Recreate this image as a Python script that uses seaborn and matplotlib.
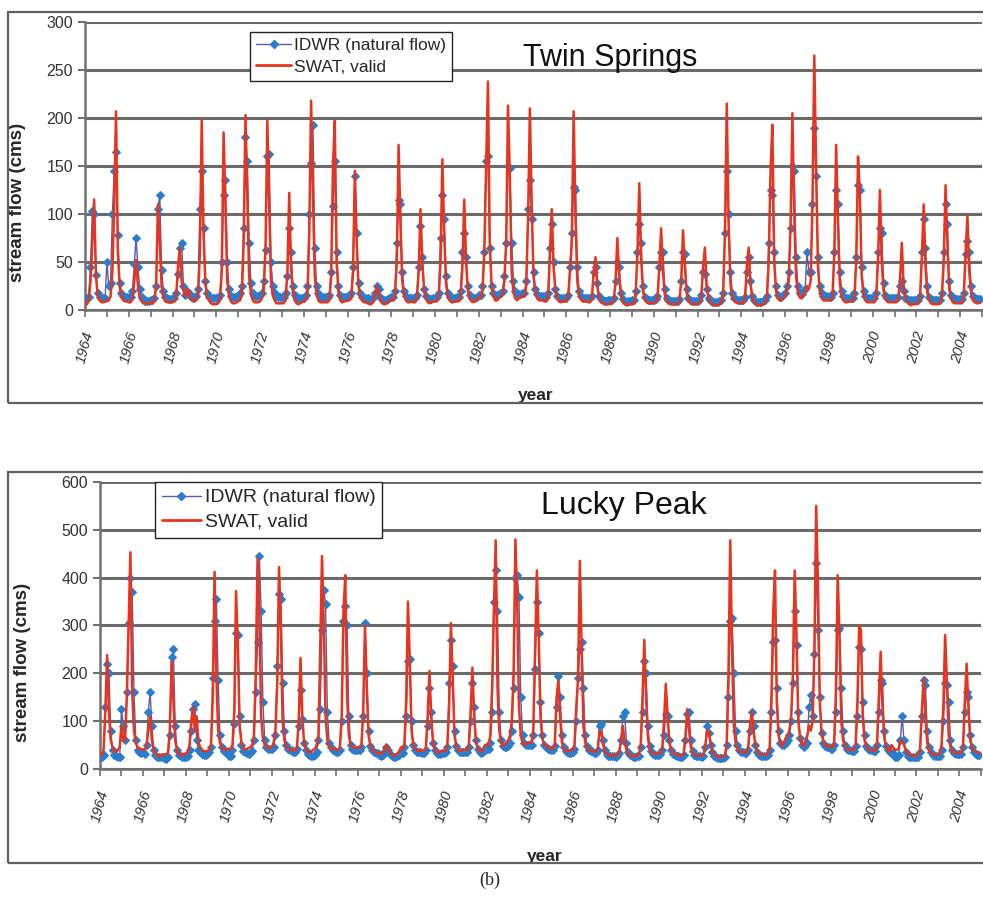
import numpy as np
import pandas as pd
import seaborn as sns
import matplotlib.pyplot as plt
from matplotlib.patches import Rectangle
from matplotlib.ticker import MultipleLocator
from matplotlib.lines import Line2D

years = list(range(1964, 2005))

# Twin Springs, monthly flow (cms), one row per year Jan..Dec
ts_swat = [
    [6, 6, 9, 30, 70, 115, 35, 15, 10, 8, 8, 9],
    [9, 10, 14, 40, 110, 207, 60, 25, 14, 10, 9, 9],
    [8, 8, 12, 30, 52, 25, 13, 9, 7, 6, 7, 7],
    [7, 7, 9, 25, 110, 70, 25, 13, 9, 8, 8, 8],
    [8, 9, 15, 45, 65, 30, 20, 14, 22, 18, 12, 10],
    [9, 10, 14, 60, 198, 80, 28, 14, 10, 7, 6, 6],
    [6, 7, 10, 40, 185, 110, 30, 14, 9, 7, 7, 8],
    [9, 10, 16, 70, 203, 120, 35, 16, 10, 8, 8, 8],
    [9, 12, 20, 65, 197, 110, 30, 15, 10, 7, 7, 7],
    [7, 7, 10, 40, 122, 45, 18, 10, 7, 6, 7, 8],
    [9, 11, 15, 80, 218, 120, 35, 16, 10, 8, 8, 8],
    [8, 8, 10, 35, 150, 197, 50, 18, 10, 8, 9, 9],
    [10, 10, 12, 40, 145, 70, 25, 14, 10, 8, 8, 7],
    [6, 6, 8, 15, 25, 18, 10, 7, 6, 6, 8, 10],
    [11, 10, 15, 50, 172, 90, 30, 15, 10, 8, 8, 9],
    [8, 8, 12, 40, 105, 50, 20, 12, 8, 7, 8, 9],
    [9, 9, 14, 50, 157, 80, 28, 14, 10, 8, 8, 9],
    [9, 9, 14, 45, 115, 50, 20, 12, 9, 8, 10, 12],
    [12, 12, 20, 60, 150, 238, 70, 25, 14, 10, 10, 12],
    [14, 16, 30, 70, 213, 140, 40, 18, 12, 10, 12, 14],
    [14, 14, 25, 95, 210, 110, 35, 18, 12, 10, 10, 10],
    [9, 9, 12, 60, 105, 45, 20, 12, 9, 8, 9, 9],
    [9, 14, 40, 70, 207, 100, 30, 15, 11, 9, 9, 9],
    [8, 8, 12, 40, 55, 25, 12, 8, 7, 6, 6, 6],
    [6, 7, 10, 30, 75, 35, 14, 8, 6, 5, 6, 6],
    [6, 6, 15, 60, 132, 55, 20, 11, 8, 7, 7, 7],
    [7, 8, 12, 45, 85, 40, 16, 9, 7, 6, 6, 6],
    [6, 6, 9, 30, 83, 45, 18, 10, 7, 6, 6, 6],
    [6, 7, 14, 45, 65, 25, 12, 8, 6, 5, 5, 5],
    [6, 7, 15, 80, 215, 90, 28, 14, 10, 8, 7, 7],
    [7, 7, 12, 45, 65, 28, 12, 8, 6, 5, 5, 5],
    [6, 7, 12, 50, 145, 193, 50, 20, 12, 10, 10, 12],
    [15, 20, 30, 90, 205, 100, 35, 18, 13, 12, 15, 20],
    [25, 22, 30, 110, 265, 150, 45, 20, 13, 10, 10, 10],
    [10, 10, 14, 60, 172, 90, 28, 14, 10, 8, 8, 9],
    [9, 9, 14, 50, 160, 120, 35, 15, 10, 8, 8, 8],
    [8, 8, 14, 55, 125, 50, 20, 12, 9, 8, 8, 8],
    [8, 8, 10, 30, 70, 25, 12, 8, 6, 5, 6, 6],
    [6, 7, 12, 55, 110, 45, 18, 10, 7, 6, 6, 6],
    [6, 7, 15, 50, 130, 70, 22, 12, 8, 7, 7, 7],
    [7, 7, 15, 60, 98, 40, 18, 10, 8, 7, 7, 8],
]

ts_idwr = [
    [12, 12, 14, 45, 103, 100, 36, 18, 14, 12, 12, 13],
    [50, 25, 28, 100, 145, 165, 78, 28, 18, 15, 14, 14],
    [14, 14, 20, 48, 75, 45, 22, 14, 11, 9, 9, 9],
    [10, 10, 12, 25, 105, 120, 42, 20, 14, 12, 11, 11],
    [12, 12, 18, 38, 65, 70, 25, 16, 20, 18, 14, 13],
    [14, 15, 22, 105, 145, 85, 30, 18, 14, 12, 12, 12],
    [12, 13, 16, 50, 120, 135, 50, 22, 15, 14, 14, 14],
    [15, 18, 25, 85, 180, 155, 70, 28, 18, 15, 15, 15],
    [16, 18, 30, 62, 160, 162, 50, 25, 18, 15, 14, 14],
    [14, 14, 18, 35, 85, 60, 25, 16, 13, 12, 12, 12],
    [13, 16, 25, 100, 153, 193, 65, 25, 18, 15, 14, 14],
    [14, 14, 16, 40, 108, 155, 60, 25, 16, 14, 14, 14],
    [15, 15, 18, 45, 140, 80, 28, 18, 14, 13, 12, 12],
    [11, 11, 12, 18, 25, 22, 14, 11, 10, 10, 11, 12],
    [14, 14, 20, 70, 115, 110, 40, 20, 15, 13, 13, 13],
    [13, 13, 16, 45, 88, 55, 22, 15, 12, 11, 11, 12],
    [13, 14, 18, 75, 120, 95, 35, 18, 14, 13, 13, 13],
    [14, 14, 20, 60, 80, 55, 25, 16, 13, 12, 13, 14],
    [16, 16, 25, 60, 155, 160, 65, 25, 18, 16, 16, 17],
    [18, 20, 35, 70, 150, 148, 70, 30, 20, 17, 17, 17],
    [18, 18, 30, 105, 135, 95, 40, 22, 17, 15, 15, 15],
    [14, 14, 18, 65, 90, 50, 22, 15, 12, 12, 12, 12],
    [13, 16, 45, 80, 128, 125, 45, 20, 15, 13, 13, 13],
    [12, 12, 15, 40, 45, 28, 15, 11, 10, 9, 9, 10],
    [10, 10, 13, 30, 50, 45, 18, 11, 9, 8, 9, 9],
    [10, 10, 20, 60, 90, 70, 25, 14, 11, 10, 10, 10],
    [10, 11, 15, 45, 60, 60, 22, 13, 10, 9, 9, 9],
    [9, 9, 11, 30, 60, 58, 22, 13, 10, 9, 9, 9],
    [9, 10, 16, 40, 38, 22, 13, 10, 8, 8, 8, 8],
    [9, 10, 18, 80, 145, 100, 40, 18, 13, 11, 10, 10],
    [10, 10, 14, 40, 55, 30, 15, 10, 8, 8, 8, 8],
    [9, 10, 15, 70, 125, 120, 60, 25, 16, 14, 14, 16],
    [18, 25, 40, 85, 150, 145, 55, 25, 18, 17, 20, 22],
    [60, 40, 40, 110, 190, 140, 55, 25, 18, 15, 15, 15],
    [14, 14, 18, 60, 125, 110, 40, 20, 15, 13, 13, 13],
    [13, 13, 18, 55, 130, 125, 45, 20, 15, 13, 13, 13],
    [12, 12, 18, 60, 85, 80, 28, 16, 13, 12, 12, 12],
    [12, 12, 14, 25, 30, 20, 13, 11, 10, 10, 10, 10],
    [10, 10, 15, 60, 95, 65, 25, 14, 11, 10, 10, 10],
    [10, 10, 18, 60, 110, 90, 30, 16, 12, 11, 11, 11],
    [11, 11, 18, 58, 72, 60, 25, 15, 12, 11, 11, 11],
]

# Lucky Peak, monthly flow (cms)
lp_swat = [
    [28, 30, 40, 120, 238, 120, 60, 45, 38, 35, 40, 45],
    [90, 60, 60, 150, 300, 453, 160, 80, 55, 45, 42, 42],
    [40, 40, 50, 80, 110, 60, 40, 32, 28, 26, 28, 30],
    [30, 30, 35, 80, 225, 140, 60, 40, 32, 28, 30, 32],
    [32, 35, 50, 100, 130, 80, 110, 55, 45, 40, 38, 36],
    [38, 40, 50, 150, 412, 190, 80, 55, 45, 40, 40, 42],
    [42, 42, 50, 120, 372, 260, 90, 55, 45, 40, 42, 44],
    [45, 50, 70, 200, 440, 330, 110, 65, 50, 45, 44, 44],
    [45, 55, 80, 180, 422, 300, 100, 60, 48, 42, 40, 40],
    [38, 38, 45, 100, 232, 110, 55, 42, 36, 34, 36, 40],
    [42, 50, 70, 250, 445, 300, 110, 60, 48, 42, 42, 42],
    [40, 40, 45, 110, 330, 405, 150, 70, 50, 45, 45, 45],
    [45, 45, 50, 120, 300, 170, 70, 48, 40, 36, 35, 34],
    [32, 32, 34, 42, 50, 42, 35, 30, 28, 28, 32, 36],
    [45, 42, 50, 140, 350, 230, 80, 50, 42, 38, 38, 40],
    [38, 38, 45, 110, 205, 110, 55, 42, 36, 34, 36, 38],
    [38, 38, 50, 130, 305, 190, 70, 48, 40, 38, 38, 40],
    [40, 40, 50, 120, 212, 110, 55, 42, 38, 36, 42, 50],
    [50, 50, 70, 170, 330, 478, 170, 80, 55, 48, 50, 55],
    [60, 70, 100, 200, 480, 350, 130, 70, 55, 50, 52, 55],
    [55, 55, 80, 250, 415, 280, 110, 65, 52, 48, 46, 45],
    [42, 42, 50, 150, 185, 110, 55, 42, 38, 36, 38, 40],
    [40, 50, 130, 190, 435, 250, 90, 55, 45, 40, 38, 38],
    [36, 36, 42, 80, 75, 50, 38, 32, 30, 28, 28, 30],
    [28, 30, 36, 60, 90, 60, 40, 32, 28, 26, 26, 28],
    [28, 30, 50, 150, 270, 150, 65, 42, 35, 32, 32, 32],
    [32, 34, 42, 100, 178, 110, 55, 40, 34, 30, 30, 30],
    [28, 28, 32, 70, 125, 80, 45, 35, 30, 28, 28, 28],
    [28, 30, 45, 80, 80, 55, 38, 30, 27, 25, 25, 25],
    [26, 28, 50, 200, 478, 250, 90, 55, 42, 38, 36, 36],
    [34, 34, 45, 90, 120, 80, 50, 38, 32, 30, 30, 30],
    [30, 32, 45, 150, 330, 415, 140, 70, 52, 48, 55, 65],
    [70, 80, 110, 200, 415, 280, 100, 65, 52, 48, 60, 70],
    [90, 80, 100, 250, 550, 380, 140, 75, 58, 50, 48, 48],
    [45, 45, 55, 160, 405, 280, 100, 60, 48, 42, 40, 40],
    [40, 40, 50, 140, 300, 290, 110, 60, 48, 42, 40, 40],
    [38, 38, 55, 150, 245, 130, 65, 48, 40, 36, 50, 45],
    [40, 40, 42, 60, 60, 50, 40, 34, 30, 28, 28, 28],
    [28, 30, 40, 120, 190, 110, 55, 40, 34, 30, 30, 30],
    [30, 32, 50, 130, 280, 180, 70, 45, 38, 34, 34, 34],
    [34, 34, 50, 140, 220, 130, 60, 45, 38, 36, 35, 34],
]

lp_idwr = [
    [25, 25, 30, 130, 220, 200, 80, 40, 30, 28, 26, 25],
    [125, 90, 60, 160, 305, 400, 370, 160, 60, 40, 35, 33],
    [35, 32, 50, 120, 160, 90, 40, 30, 26, 24, 24, 24],
    [22, 20, 25, 70, 235, 250, 90, 40, 30, 27, 26, 26],
    [26, 28, 40, 80, 125, 135, 60, 40, 35, 32, 30, 30],
    [32, 35, 45, 190, 310, 355, 185, 70, 45, 38, 35, 35],
    [28, 27, 40, 95, 285, 280, 110, 50, 38, 35, 33, 32],
    [34, 38, 60, 160, 265, 445, 330, 140, 60, 45, 42, 42],
    [42, 45, 70, 215, 365, 355, 180, 80, 50, 42, 40, 40],
    [36, 36, 42, 90, 165, 105, 55, 40, 32, 30, 28, 28],
    [30, 35, 60, 125, 290, 375, 345, 120, 55, 45, 40, 38],
    [36, 36, 40, 100, 310, 340, 300, 110, 50, 42, 40, 40],
    [40, 40, 45, 110, 305, 200, 80, 48, 40, 36, 34, 34],
    [30, 28, 30, 38, 45, 40, 32, 27, 25, 24, 28, 30],
    [35, 34, 45, 110, 225, 230, 100, 50, 40, 36, 35, 35],
    [34, 34, 40, 90, 170, 120, 55, 40, 34, 32, 32, 33],
    [34, 35, 45, 180, 270, 215, 80, 48, 40, 36, 36, 36],
    [36, 36, 45, 100, 180, 130, 60, 42, 36, 34, 36, 40],
    [42, 42, 55, 120, 350, 415, 330, 120, 60, 48, 46, 46],
    [48, 55, 80, 170, 400, 405, 360, 150, 70, 55, 50, 50],
    [50, 50, 70, 210, 350, 285, 140, 70, 50, 45, 42, 42],
    [40, 40, 48, 130, 195, 150, 70, 45, 38, 35, 34, 34],
    [36, 42, 100, 190, 250, 265, 170, 70, 48, 40, 38, 38],
    [34, 34, 40, 90, 95, 60, 40, 32, 28, 27, 27, 27],
    [26, 27, 34, 60, 110, 120, 55, 36, 30, 27, 26, 26],
    [27, 28, 45, 120, 225, 200, 90, 48, 38, 32, 30, 30],
    [30, 32, 40, 70, 115, 110, 60, 40, 32, 30, 28, 28],
    [26, 26, 30, 60, 115, 120, 60, 38, 30, 28, 27, 27],
    [26, 28, 45, 90, 75, 50, 35, 28, 24, 23, 22, 22],
    [22, 25, 50, 150, 310, 315, 200, 80, 50, 40, 36, 35],
    [34, 34, 40, 80, 120, 90, 50, 36, 30, 28, 28, 28],
    [28, 30, 40, 120, 265, 270, 170, 80, 55, 50, 50, 55],
    [60, 70, 100, 180, 330, 260, 120, 65, 50, 45, 50, 55],
    [130, 155, 110, 240, 430, 290, 150, 75, 55, 48, 45, 45],
    [42, 42, 50, 120, 290, 295, 170, 80, 50, 42, 40, 40],
    [38, 38, 48, 110, 255, 250, 140, 70, 48, 42, 40, 40],
    [38, 38, 50, 120, 185, 180, 80, 48, 40, 36, 34, 34],
    [26, 26, 30, 60, 110, 60, 35, 28, 25, 24, 24, 24],
    [24, 25, 35, 110, 185, 175, 80, 45, 35, 30, 28, 28],
    [28, 28, 40, 100, 180, 175, 140, 60, 40, 34, 32, 32],
    [32, 32, 45, 120, 160, 150, 70, 45, 36, 32, 30, 30],
]

sns.set_style('white')
plt.rcParams['font.family'] = ['Liberation Sans', 'DejaVu Sans']

def to_frame(swat, idwr):
    t = [y + m / 12 for y in years for m in range(12)]
    return pd.DataFrame({'t': t,
                         'swat': np.ravel(swat),
                         'idwr': np.ravel(idwr)})

blue = '#2a7ccc'
blue_line = '#5a5ca8'
red = '#e8341f'
grid_c = '#6a6a6a'

fig = plt.figure(figsize=(9.83, 8.98), dpi=100)

# outer frames like the excel chart areas
fig.add_artist(Rectangle((0.008, 0.5512), 1.0, 0.4354, transform=fig.transFigure,
                         fill=False, edgecolor='#606060', lw=1.6))
fig.add_artist(Rectangle((0.008, 0.039), 1.0, 0.4354, transform=fig.transFigure,
                         fill=False, edgecolor='#606060', lw=1.6))

panels = [
    dict(rect=[0.0865, 0.6548, 0.9125, 0.3207], swat=ts_swat, idwr=ts_idwr,
         ymax=300, step=50, title='Twin Springs', tpos=(0.585, 0.875), tsize=22,
         leg=(0.184, 0.965), lsize=12.5, ylab=(-0.066, 0.375), xlab=(0.502, -0.27)),
    dict(rect=[0.1017, 0.1437, 0.8962, 0.3196], swat=lp_swat, idwr=lp_idwr,
         ymax=600, step=100, title='Lucky Peak', tpos=(0.595, 0.916), tsize=23,
         leg=(0.0624, 1.0), lsize=14, ylab=(-0.078, 0.37), xlab=(0.505, -0.28)),
]

for p in panels:
    ax = fig.add_axes(p['rect'])
    df = to_frame(p['swat'], p['idwr'])
    sns.lineplot(data=df, x='t', y='idwr', ax=ax, color=blue_line, lw=1.0,
                 marker='D', markersize=4.5, markerfacecolor=blue,
                 markeredgecolor=blue, estimator=None, zorder=3)
    sns.lineplot(data=df, x='t', y='swat', ax=ax, color=red, lw=1.8,
                 estimator=None, zorder=4)
    ax.set_xlim(1964, 2005)
    ax.set_ylim(0, p['ymax'])
    ax.yaxis.set_major_locator(MultipleLocator(p['step']))
    ax.xaxis.set_major_locator(MultipleLocator(2))
    ax.xaxis.set_minor_locator(MultipleLocator(1))
    ax.grid(axis='y', color=grid_c, lw=2.2)
    ax.set_axisbelow(True)
    for s in ['top', 'right']:
        ax.spines[s].set_visible(False)
    for s in ['left', 'bottom']:
        ax.spines[s].set_color('#707070')
        ax.spines[s].set_linewidth(1.8)
    ax.tick_params(axis='y', which='major', length=5, width=1.5, color='#707070',
                   labelsize=11.5, labelcolor='#333333', left=True)
    ax.tick_params(axis='x', which='both', length=5, width=1.2, color='#707070',
                   labelsize=10.5, labelcolor='#333333', bottom=True, pad=9)
    ax.set_xticks(list(range(1964, 2005, 2)))
    ax.set_xticklabels([str(y) for y in range(1964, 2005, 2)], rotation=75,
                       fontstyle='italic')
    ax.set_ylabel('stream flow (cms)', fontsize=13.5, fontweight='bold')
    ax.yaxis.set_label_coords(*p['ylab'])
    ax.set_xlabel('year', fontsize=12.5, fontweight='bold')
    ax.xaxis.set_label_coords(*p['xlab'])
    ax.text(p['tpos'][0], p['tpos'][1], p['title'], transform=ax.transAxes,
            ha='center', va='center', fontsize=p['tsize'], color='#111111')
    handles = [Line2D([], [], color=blue_line, lw=1.0, marker='D', markersize=4.5,
                      markerfacecolor=blue, markeredgecolor=blue),
               Line2D([], [], color=red, lw=2.0)]
    leg = ax.legend(handles, ['IDWR (natural flow)', 'SWAT, valid'],
                    loc='upper left', bbox_to_anchor=p['leg'], fontsize=p['lsize'],
                    frameon=True, fancybox=False, framealpha=1,
                    edgecolor='#222222', handlelength=2.0, borderpad=0.35,
                    labelspacing=0.35, handletextpad=0.2, borderaxespad=0)
    leg.get_frame().set_linewidth(1.0)

fig.text(0.4985, 0.02, '(b)', ha='center', va='center', fontsize=13,
         family=['Liberation Serif', 'DejaVu Serif'])

fig.savefig('out.png', dpi=100)
